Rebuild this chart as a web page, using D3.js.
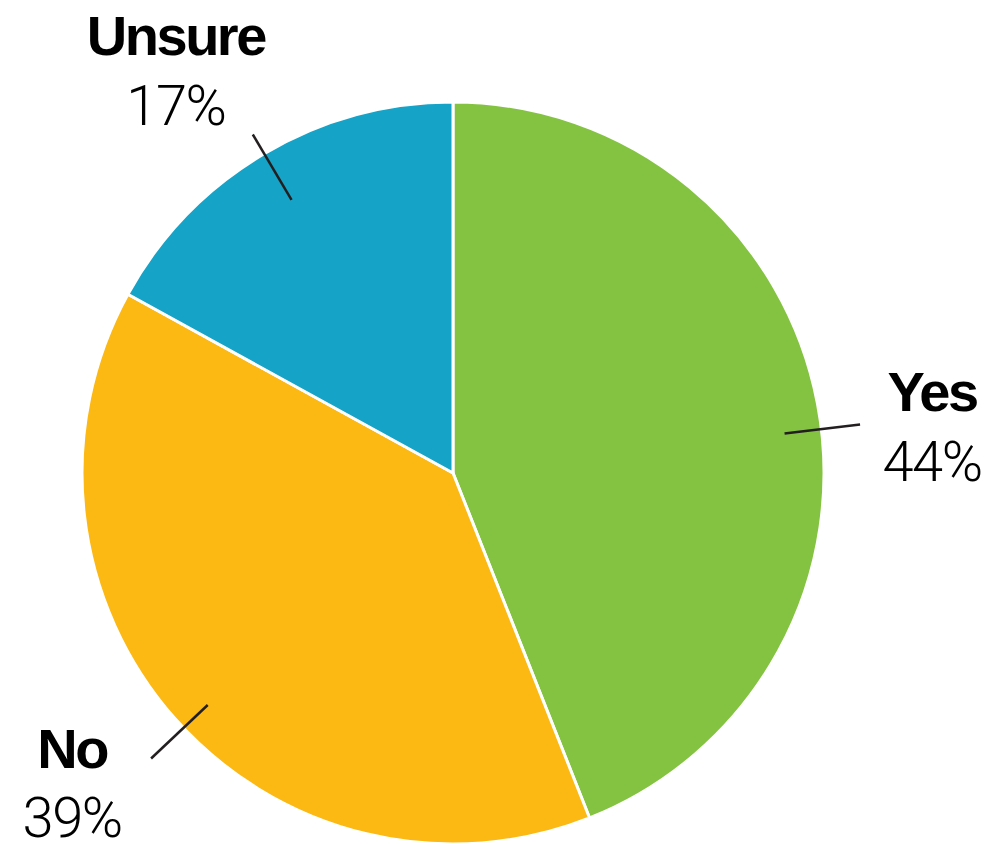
<!DOCTYPE html>
<html>
<head>
<meta charset="utf-8">
<script src="https://cdn.jsdelivr.net/npm/d3@7"></script>
<style>
  html, body { margin: 0; padding: 0; background: #ffffff; }
  svg { display: block; }
  .name { font-family: "Liberation Sans", Arial, Helvetica, sans-serif; font-weight: 700; font-size: 56px; letter-spacing: -2.5px; fill: #000; }
  .pct { font-family: Roboto, "Liberation Sans", sans-serif; font-weight: 300; font-size: 56px; letter-spacing: -1.5px; fill: #000; }
</style>
</head>
<body>
<svg id="chart" width="996" height="844"></svg>
<script>
// Survey answers, in clockwise order from 12 o'clock
const categories = ["Yes", "No", "Unsure"];
const values = [44, 39, 17];
const valueLabels = ["44%", "39%", "17%"];

// Slice colours
const colors = ["#84c341", "#fcb813", "#15a3c7"];

// Leader line geometry (fractions of the radius) and label offsets from the leader's outer end
const leaderNudgeDeg = [4, -2, 0];
const leaderInner = [0.90, 0.91, 0.855];
const leaderOuter = [1.105, 1.12, 1.06];
const labelDx = [72, -79, -77];
const nameDy = [-13, 10, -80];
const pctDy = [57, 79, -10];

const width = 996, height = 844;
const cx = 453, cy = 473, radius = 371;

const svg = d3.select("#chart");
const g = svg.append("g").attr("transform", `translate(${cx},${cy})`);

const pie = d3.pie().sort(null).value(d => d.value);
const data = categories.map((c, i) => ({ name: c, value: values[i], label: valueLabels[i], i }));
const arcs = pie(data);

const arc = d3.arc().innerRadius(0).outerRadius(radius);

g.selectAll("path.slice")
  .data(arcs)
  .join("path")
  .attr("class", "slice")
  .attr("d", arc)
  .attr("fill", d => colors[d.data.i])
  .attr("stroke", "#ffffff")
  .attr("stroke-width", 3)
  .attr("stroke-linejoin", "round");

// Leader lines crossing the rim near each slice's mid-angle
function polar(angle, r) {
  return [Math.sin(angle) * r, -Math.cos(angle) * r];
}
arcs.forEach(a => {
  const i = a.data.i;
  const mid = (a.startAngle + a.endAngle) / 2 + leaderNudgeDeg[i] * Math.PI / 180;
  const p0 = polar(mid, radius * leaderInner[i]);
  const p1 = polar(mid, radius * leaderOuter[i]);
  g.append("line")
    .attr("x1", p0[0]).attr("y1", p0[1])
    .attr("x2", p1[0]).attr("y2", p1[1])
    .attr("stroke", "#231f20")
    .attr("stroke-width", 2.5);

  const lx = p1[0] + labelDx[i];
  g.append("text")
    .attr("class", "name")
    .attr("x", lx).attr("y", p1[1] + nameDy[i])
    .attr("text-anchor", "middle")
    .text(a.data.name);
  g.append("text")
    .attr("class", "pct")
    .attr("x", lx).attr("y", p1[1] + pctDy[i])
    .attr("text-anchor", "middle")
    .text(a.data.label);
});
</script>
</body>
</html>
